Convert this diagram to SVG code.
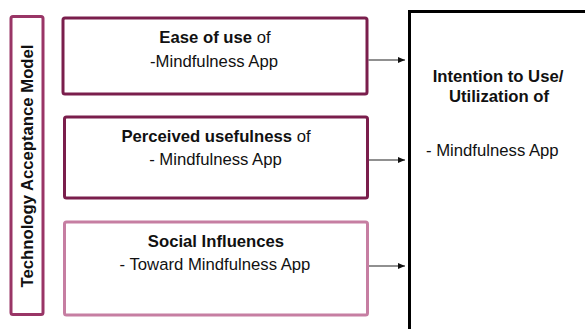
<svg xmlns="http://www.w3.org/2000/svg" width="585" height="329" viewBox="0 0 585 329">
<style>
  text { font-family: "Liberation Sans", Arial, sans-serif; font-size: 16.7px; fill: #111; }
  .b { font-weight: bold; }
  .box { fill: #fff; stroke-width: 3; }
  .conn { stroke: #222; stroke-width: 1.2; fill: none; marker-end: url(#arr); }
</style>
<defs>
  <marker id="arr" markerWidth="8" markerHeight="8" refX="7" refY="4" orient="auto" markerUnits="userSpaceOnUse">
    <path d="M0,1 L7,4 L0,7 Z" fill="#111"/>
  </marker>
</defs>
<rect width="585" height="329" fill="#fff"/>
<g id="tam">
  <rect class="box" x="11" y="16.5" width="32" height="298" rx="2" stroke="#993566"/>
  <text class="b" transform="translate(32.5,166) rotate(-90)" text-anchor="middle">Technology Acceptance Model</text>
</g>
<g id="ease">
  <rect class="box" x="63" y="18" width="304" height="76" rx="2" stroke="#7a1e4c"/>
  <text x="215" y="43" text-anchor="middle"><tspan class="b">Ease of use</tspan> of</text>
  <text x="214" y="66.5" text-anchor="middle">-Mindfulness App</text>
</g>
<g id="useful">
  <rect class="box" x="64.5" y="117" width="303" height="81" rx="2" stroke="#7a1e4c"/>
  <text x="216" y="142" text-anchor="middle"><tspan class="b">Perceived usefulness</tspan> of</text>
  <text x="215.5" y="164.5" text-anchor="middle">- Mindfulness App</text>
</g>
<g id="social">
  <rect class="box" x="64.5" y="222" width="303" height="93" rx="2" stroke="#c67ea2"/>
  <text class="b" x="216" y="247" text-anchor="middle">Social Influences</text>
  <text x="215" y="270" text-anchor="middle">- Toward Mindfulness App</text>
</g>
<g id="intention">
  <rect x="409.5" y="11.5" width="200" height="340" fill="#fff" stroke="#000" stroke-width="3"/>
  <text class="b" x="498" y="82" text-anchor="middle">Intention to Use/</text>
  <text class="b" x="499" y="102" text-anchor="middle">Utilization of</text>
  <text x="426" y="156">- Mindfulness App</text>
</g>
<g id="connectors">
  <line class="conn" x1="368.5" y1="60" x2="405" y2="60"/>
  <line class="conn" x1="369" y1="160" x2="405" y2="160"/>
  <line class="conn" x1="369" y1="266" x2="405" y2="266"/>
</g>
</svg>
